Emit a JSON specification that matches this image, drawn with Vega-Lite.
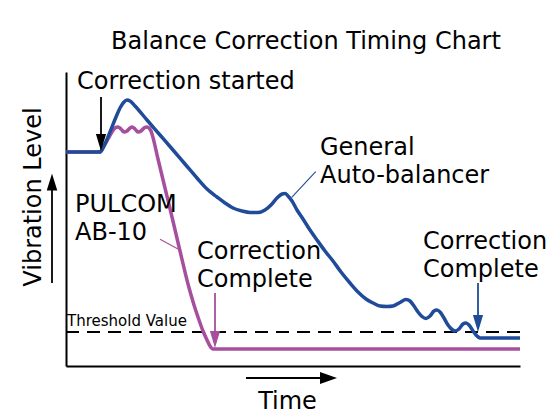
{
  "$schema": "https://vega.github.io/schema/vega-lite/v6.json",
  "width": 454,
  "height": 294,
  "autosize": {"type": "none"},
  "padding": {"left": 66, "top": 72, "right": 36, "bottom": 52},
  "background": "white",
  "title": {
    "text": "Balance Correction Timing Chart",
    "font": "DejaVu Sans",
    "fontSize": 24,
    "fontWeight": "normal",
    "color": "black",
    "anchor": "middle",
    "frame": "group",
    "dx": 13,
    "baseline": "alphabetic",
    "offset": -3
  },
  "config": {
    "view": {"stroke": null},
    "axis": {
      "domainColor": "black",
      "domainWidth": 2,
      "ticks": false,
      "labels": false,
      "grid": false,
      "titleFont": "DejaVu Sans",
      "titleFontSize": 24,
      "titleFontWeight": "normal",
      "titleColor": "black"
    }
  },
  "datasets": {
    "curves": [
      {"series": "General Auto-balancer", "t": 0, "v": 214},
      {"series": "General Auto-balancer", "t": 34, "v": 214},
      {"series": "General Auto-balancer", "t": 38, "v": 220},
      {"series": "General Auto-balancer", "t": 44, "v": 234},
      {"series": "General Auto-balancer", "t": 50, "v": 249},
      {"series": "General Auto-balancer", "t": 54, "v": 258},
      {"series": "General Auto-balancer", "t": 58, "v": 264},
      {"series": "General Auto-balancer", "t": 61, "v": 266},
      {"series": "General Auto-balancer", "t": 64, "v": 265},
      {"series": "General Auto-balancer", "t": 69, "v": 260},
      {"series": "General Auto-balancer", "t": 81, "v": 246},
      {"series": "General Auto-balancer", "t": 94, "v": 231},
      {"series": "General Auto-balancer", "t": 107, "v": 216},
      {"series": "General Auto-balancer", "t": 119, "v": 202},
      {"series": "General Auto-balancer", "t": 131, "v": 188},
      {"series": "General Auto-balancer", "t": 141, "v": 177},
      {"series": "General Auto-balancer", "t": 151, "v": 169},
      {"series": "General Auto-balancer", "t": 159, "v": 163},
      {"series": "General Auto-balancer", "t": 167, "v": 158},
      {"series": "General Auto-balancer", "t": 176, "v": 155},
      {"series": "General Auto-balancer", "t": 184, "v": 153.5},
      {"series": "General Auto-balancer", "t": 192, "v": 153.5},
      {"series": "General Auto-balancer", "t": 199, "v": 156},
      {"series": "General Auto-balancer", "t": 205, "v": 161},
      {"series": "General Auto-balancer", "t": 211, "v": 168},
      {"series": "General Auto-balancer", "t": 216, "v": 172},
      {"series": "General Auto-balancer", "t": 219, "v": 172.5},
      {"series": "General Auto-balancer", "t": 222, "v": 170},
      {"series": "General Auto-balancer", "t": 226, "v": 165},
      {"series": "General Auto-balancer", "t": 231, "v": 156},
      {"series": "General Auto-balancer", "t": 237, "v": 147},
      {"series": "General Auto-balancer", "t": 244, "v": 136},
      {"series": "General Auto-balancer", "t": 251, "v": 126},
      {"series": "General Auto-balancer", "t": 259, "v": 115},
      {"series": "General Auto-balancer", "t": 267, "v": 105},
      {"series": "General Auto-balancer", "t": 275, "v": 94},
      {"series": "General Auto-balancer", "t": 284, "v": 83},
      {"series": "General Auto-balancer", "t": 292, "v": 74},
      {"series": "General Auto-balancer", "t": 300, "v": 67},
      {"series": "General Auto-balancer", "t": 307, "v": 63},
      {"series": "General Auto-balancer", "t": 314, "v": 60},
      {"series": "General Auto-balancer", "t": 321, "v": 59.5},
      {"series": "General Auto-balancer", "t": 327, "v": 60},
      {"series": "General Auto-balancer", "t": 334, "v": 63.5},
      {"series": "General Auto-balancer", "t": 340, "v": 66.5},
      {"series": "General Auto-balancer", "t": 344, "v": 65},
      {"series": "General Auto-balancer", "t": 348, "v": 60},
      {"series": "General Auto-balancer", "t": 352, "v": 54},
      {"series": "General Auto-balancer", "t": 356, "v": 49.5},
      {"series": "General Auto-balancer", "t": 360, "v": 47.5},
      {"series": "General Auto-balancer", "t": 364, "v": 50},
      {"series": "General Auto-balancer", "t": 368, "v": 55},
      {"series": "General Auto-balancer", "t": 371, "v": 56},
      {"series": "General Auto-balancer", "t": 374, "v": 54},
      {"series": "General Auto-balancer", "t": 378, "v": 48},
      {"series": "General Auto-balancer", "t": 382, "v": 41},
      {"series": "General Auto-balancer", "t": 386, "v": 36.5},
      {"series": "General Auto-balancer", "t": 389, "v": 35},
      {"series": "General Auto-balancer", "t": 393, "v": 37},
      {"series": "General Auto-balancer", "t": 397, "v": 42},
      {"series": "General Auto-balancer", "t": 400, "v": 43},
      {"series": "General Auto-balancer", "t": 403, "v": 41},
      {"series": "General Auto-balancer", "t": 407, "v": 35},
      {"series": "General Auto-balancer", "t": 411, "v": 30},
      {"series": "General Auto-balancer", "t": 414, "v": 28},
      {"series": "General Auto-balancer", "t": 454, "v": 28},
      {"series": "PULCOM AB-10", "t": 0, "v": 214},
      {"series": "PULCOM AB-10", "t": 34, "v": 214},
      {"series": "PULCOM AB-10", "t": 38, "v": 220},
      {"series": "PULCOM AB-10", "t": 42, "v": 227},
      {"series": "PULCOM AB-10", "t": 46, "v": 234},
      {"series": "PULCOM AB-10", "t": 49, "v": 238},
      {"series": "PULCOM AB-10", "t": 52, "v": 239},
      {"series": "PULCOM AB-10", "t": 55, "v": 237},
      {"series": "PULCOM AB-10", "t": 58, "v": 234},
      {"series": "PULCOM AB-10", "t": 61, "v": 235},
      {"series": "PULCOM AB-10", "t": 64, "v": 238},
      {"series": "PULCOM AB-10", "t": 66, "v": 239},
      {"series": "PULCOM AB-10", "t": 69, "v": 237},
      {"series": "PULCOM AB-10", "t": 72, "v": 234},
      {"series": "PULCOM AB-10", "t": 75, "v": 235},
      {"series": "PULCOM AB-10", "t": 78, "v": 238},
      {"series": "PULCOM AB-10", "t": 81, "v": 239},
      {"series": "PULCOM AB-10", "t": 83, "v": 238},
      {"series": "PULCOM AB-10", "t": 85, "v": 235},
      {"series": "PULCOM AB-10", "t": 86, "v": 232},
      {"series": "PULCOM AB-10", "t": 92, "v": 207},
      {"series": "PULCOM AB-10", "t": 99, "v": 178},
      {"series": "PULCOM AB-10", "t": 106, "v": 149},
      {"series": "PULCOM AB-10", "t": 114, "v": 115},
      {"series": "PULCOM AB-10", "t": 122, "v": 82},
      {"series": "PULCOM AB-10", "t": 128, "v": 61},
      {"series": "PULCOM AB-10", "t": 133, "v": 46},
      {"series": "PULCOM AB-10", "t": 137, "v": 35},
      {"series": "PULCOM AB-10", "t": 141, "v": 26},
      {"series": "PULCOM AB-10", "t": 144, "v": 20},
      {"series": "PULCOM AB-10", "t": 147, "v": 17},
      {"series": "PULCOM AB-10", "t": 454, "v": 17}
    ],
    "threshold": [{"name": "Threshold Value", "v": 34}],
    "shafts": [
      {"kind": "axis", "t": -14, "v": 83, "t2": -14, "v2": 177},
      {"kind": "axis", "t": 180, "v": -12, "t2": 255, "v2": -12},
      {"kind": "axis", "t": 35, "v": 269, "t2": 35, "v2": 231},
      {"kind": "PULCOM AB-10", "t": 149, "v": 73, "t2": 149, "v2": 34},
      {"kind": "General Auto-balancer", "t": 412, "v": 83, "t2": 412, "v2": 50}
    ],
    "leaders": [
      {"kind": "PULCOM AB-10", "t": 94, "v": 126.7, "t2": 112, "v2": 117},
      {"kind": "General Auto-balancer", "t": 225.7, "v": 168.7, "t2": 249.7, "v2": 194.3}
    ],
    "heads": [
      {"kind": "axis", "dir": "up", "t": -14, "v": 184},
      {"kind": "axis", "dir": "right", "t": 262.5, "v": -12},
      {"kind": "axis", "dir": "down", "t": 35, "v": 223.5},
      {"kind": "PULCOM AB-10", "dir": "down", "t": 149, "v": 26.5},
      {"kind": "General Auto-balancer", "dir": "down", "t": 412, "v": 42.5}
    ],
    "labels": [
      {"text": "Correction started", "t": 11, "v": 277, "kind": "main"},
      {"text": "General", "t": 254, "v": 211, "kind": "main"},
      {"text": "Auto-balancer", "t": 254, "v": 183, "kind": "main"},
      {"text": "PULCOM", "t": 9, "v": 154.5, "kind": "main"},
      {"text": "AB-10", "t": 9, "v": 126, "kind": "main"},
      {"text": "Correction", "t": 131, "v": 107, "kind": "main"},
      {"text": "Complete", "t": 131, "v": 79, "kind": "main"},
      {"text": "Correction", "t": 357, "v": 117.5, "kind": "main"},
      {"text": "Complete", "t": 357, "v": 89.5, "kind": "main"},
      {"text": "Threshold Value", "t": 1, "v": 40, "kind": "small"}
    ]
  },
  "encoding": {
    "x": {"type": "quantitative", "scale": {"domain": [0, 454], "nice": false, "zero": false}},
    "y": {"type": "quantitative", "scale": {"domain": [0, 294], "nice": false, "zero": false}}
  },
  "layer": [
    {
      "data": {"name": "threshold"},
      "mark": {"type": "rule", "color": "black", "strokeWidth": 2, "strokeDash": [13, 8]},
      "encoding": {"y": {"field": "v", "type": "quantitative"}}
    },
    {
      "data": {"name": "curves"},
      "transform": [{"filter": "datum.series === 'PULCOM AB-10'"}],
      "mark": {"type": "line", "interpolate": "monotone", "color": "#a64f9e", "strokeWidth": 3.5, "clip": false},
      "encoding": {
        "x": {"field": "t", "type": "quantitative", "axis": {"title": "Time", "titleX": 221, "titleY": 42, "titleBaseline": "alphabetic", "titleAlign": "center", "titleAnchor": null}},
        "y": {"field": "v", "type": "quantitative", "axis": {"title": "Vibration Level", "titleX": -26, "titleY": 124.5, "titleAngle": -90, "titleBaseline": "alphabetic", "titleAlign": "center"}}
      }
    },
    {
      "data": {"name": "curves"},
      "transform": [{"filter": "datum.series === 'General Auto-balancer'"}],
      "mark": {"type": "line", "interpolate": "monotone", "color": "#1f4b99", "strokeWidth": 3.5, "clip": false},
      "encoding": {
        "x": {"field": "t", "type": "quantitative"},
        "y": {"field": "v", "type": "quantitative"}
      }
    },
    {
      "data": {"name": "shafts"},
      "mark": {"type": "rule", "strokeWidth": 1.8, "clip": false},
      "encoding": {
        "x": {"field": "t", "type": "quantitative"},
        "y": {"field": "v", "type": "quantitative"},
        "x2": {"field": "t2"},
        "y2": {"field": "v2"},
        "color": {"field": "kind", "type": "nominal", "scale": {"domain": ["axis", "PULCOM AB-10", "General Auto-balancer"], "range": ["black", "#a64f9e", "#1f4b99"]}, "legend": null}
      }
    },
    {
      "data": {"name": "leaders"},
      "mark": {"type": "rule", "strokeWidth": 1.1, "clip": false},
      "encoding": {
        "x": {"field": "t", "type": "quantitative"},
        "y": {"field": "v", "type": "quantitative"},
        "x2": {"field": "t2"},
        "y2": {"field": "v2"},
        "color": {"field": "kind", "type": "nominal", "scale": {"domain": ["axis", "PULCOM AB-10", "General Auto-balancer"], "range": ["black", "#a64f9e", "#1f4b99"]}, "legend": null}
      }
    },
    {
      "data": {"name": "heads"},
      "mark": {"type": "point", "filled": true, "opacity": 1, "size": 289, "strokeWidth": 0, "clip": false},
      "encoding": {
        "x": {"field": "t", "type": "quantitative"},
        "y": {"field": "v", "type": "quantitative"},
        "shape": {"field": "dir", "type": "nominal", "scale": {"domain": ["up", "down", "right"], "range": ["M-0.62,1L0.62,1L0,-1Z", "M-0.6,-1L0.6,-1L0,1Z", "M-1,-0.7L-1,0.7L1,0Z"]}, "legend": null},
        "color": {"field": "kind", "type": "nominal", "scale": {"domain": ["axis", "PULCOM AB-10", "General Auto-balancer"], "range": ["black", "#a64f9e", "#1f4b99"]}, "legend": null}
      }
    },
    {
      "data": {"name": "labels"},
      "transform": [{"filter": "datum.kind === 'main'"}],
      "mark": {"type": "text", "font": "DejaVu Sans", "fontSize": 24, "align": "left", "baseline": "alphabetic", "color": "black", "clip": false},
      "encoding": {
        "x": {"field": "t", "type": "quantitative"},
        "y": {"field": "v", "type": "quantitative"},
        "text": {"field": "text"}
      }
    },
    {
      "data": {"name": "labels"},
      "transform": [{"filter": "datum.kind === 'small'"}],
      "mark": {"type": "text", "font": "DejaVu Sans", "fontSize": 15, "align": "left", "baseline": "alphabetic", "color": "black", "clip": false},
      "encoding": {
        "x": {"field": "t", "type": "quantitative"},
        "y": {"field": "v", "type": "quantitative"},
        "text": {"field": "text"}
      }
    }
  ]
}
